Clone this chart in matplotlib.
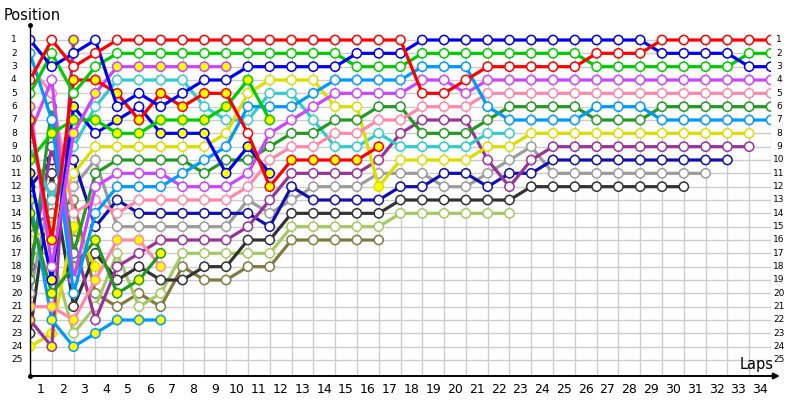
#!/usr/bin/env python3
"""Lap chart: race position of every car after each lap."""

import matplotlib
matplotlib.use("Agg")
import matplotlib.pyplot as plt

LAPS = list(range(35))
LAP_LABELS = [str(i) for i in range(1, 35)]
POSITIONS = list(range(1, 26))

# position per lap (lap 0 = grid), list stops where the car retired
red = [4, 1, 3, 2, 1, 1, 1, 1, 1, 1, 1, 1, 1, 1, 1, 1, 1, 1, 5, 5, 4, 3, 3, 3, 3, 3, 2, 2, 2, 1, 1, 1, 1, 1, 1]
blue = [1, 3, 2, 1, 6, 5, 6, 5, 4, 4, 3, 3, 3, 3, 3, 2, 2, 2, 1, 1, 1, 1, 1, 1, 1, 1, 1, 1, 1, 2, 2, 2, 2, 3, 3]
green = [5, 2, 5, 3, 2, 2, 2, 2, 2, 2, 2, 2, 2, 2, 2, 3, 3, 3, 2, 2, 2, 2, 2, 2, 2, 2, 3, 3, 3, 3, 3, 3, 3, 2, 2]
light_blue = [2, 7, 20, 14, 12, 12, 12, 11, 10, 9, 6, 6, 6, 5, 4, 4, 4, 4, 3, 3, 3, 6, 7, 7, 7, 7, 6, 6, 6, 7, 7, 7, 7, 7, 7]
pink = [3, 5, 14, 13, 14, 13, 13, 13, 13, 13, 12, 10, 9, 9, 8, 8, 7, 7, 6, 6, 6, 5, 5, 5, 5, 5, 5, 5, 5, 5, 5, 5, 5, 5, 5]
violet = [8, 4, 19, 12, 11, 11, 11, 12, 12, 12, 11, 8, 7, 6, 5, 5, 5, 5, 4, 4, 5, 4, 4, 4, 4, 4, 4, 4, 4, 4, 4, 4, 4, 4, 4]
dark_green = [19, 6, 17, 11, 10, 10, 10, 10, 11, 10, 10, 9, 8, 8, 7, 7, 6, 6, 8, 8, 8, 7, 6, 6, 6, 6, 7, 7, 7, 6, 6, 6, 6, 6, 6]
yellow = [16, 15, 11, 9, 9, 9, 9, 9, 9, 8, 5, 4, 4, 4, 6, 6, 12, 10, 10, 10, 10, 9, 9, 8, 8, 8, 8, 8, 8, 8, 8, 8, 8, 8]
purple = [18, 9, 16, 22, 18, 17, 16, 16, 16, 16, 15, 13, 11, 11, 11, 11, 10, 8, 7, 7, 7, 10, 12, 10, 9, 9, 9, 9, 9, 9, 9, 9, 9, 9]
navy = [12, 10, 10, 15, 13, 14, 14, 14, 14, 14, 14, 15, 12, 13, 13, 13, 13, 12, 12, 11, 11, 12, 11, 11, 10, 10, 10, 10, 10, 10, 10, 10, 10]
gray = [20, 12, 12, 10, 15, 15, 15, 15, 15, 15, 13, 14, 13, 12, 12, 12, 11, 11, 11, 12, 12, 11, 10, 9, 11, 11, 11, 11, 11, 11, 11, 11]
black = [23, 11, 21, 17, 19, 18, 19, 19, 18, 18, 16, 16, 14, 14, 14, 14, 14, 13, 13, 13, 13, 13, 13, 12, 12, 12, 12, 12, 12, 12, 12]
cyan = [9, 13, 9, 6, 4, 4, 4, 4, 6, 7, 7, 5, 5, 7, 9, 9, 8, 9, 9, 9, 9, 8, 8]
light_green = [17, 17, 23, 21, 17, 21, 20, 17, 17, 17, 17, 17, 15, 15, 15, 15, 15, 14, 14, 14, 14, 14, 14]
olive = [15, 14, 13, 20, 21, 20, 21, 18, 19, 19, 18, 18, 16, 16, 16, 16, 16]
red_b = [7, 16, 4, 4, 5, 7, 5, 6, 5, 5, 8, 12, 10, 10, 10, 10, 9]
violet_b = [6, 18, 8, 5, 3, 3, 3, 3, 3, 3]
green_b = [10, 8, 7, 7, 8, 8, 7, 7, 7, 6, 4, 7]
blue_b = [11, 19, 6, 8, 7, 6, 8, 8, 8, 11, 9, 11]
dark_green_b = [14, 20, 18, 16, 20, 19, 17]
pink_b = [21, 21, 22, 19, 16, 16, 18]
light_blue_b = [13, 22, 24, 23, 22, 22, 22]
yellow_b = [24, 23, 15, 18]
purple_b = [22, 24, 1]

# laps drawn with a yellow marker
red_b_pits = [0, 1, 2, 3, 4, 5, 6, 7, 8, 9, 11, 12, 13, 14, 15, 16]
violet_b_pits = [0, 2, 3, 4, 5, 6, 7, 8, 9]
green_b_pits = [0, 1, 2, 3, 4, 5, 6, 7, 8, 9, 10, 11]
blue_b_pits = [0, 1, 2, 4, 6, 7, 8, 9, 10, 11]
dark_green_b_pits = [0, 1, 2, 3, 4, 5, 6]
pink_b_pits = [0, 1, 2, 3, 4, 5, 6]
light_blue_b_pits = [0, 1, 2, 3, 4, 5, 6]
yellow_b_pits = [0, 1, 2, 3]
purple_b_pits = [0, 1, 2]
yellow_pits = [16]

DRIVERS = [
    (olive, "#807a40", []),
    (light_green, "#a3c964", []),
    (black, "#333333", []),
    (gray, "#9c9c9c", []),
    (navy, "#1010b0", []),
    (purple, "#993399", []),
    (yellow_b, "#dddd00", yellow_b_pits),
    (purple_b, "#993399", purple_b_pits),
    (light_blue_b, "#0099ff", light_blue_b_pits),
    (pink_b, "#ff88aa", pink_b_pits),
    (dark_green_b, "#229922", dark_green_b_pits),
    (cyan, "#33cccc", []),
    (yellow, "#dddd00", yellow_pits),
    (dark_green, "#229922", []),
    (pink, "#ff88aa", []),
    (violet, "#cc44ff", []),
    (light_blue, "#0099ff", []),
    (blue_b, "#0000ee", blue_b_pits),
    (green_b, "#00cc00", green_b_pits),
    (violet_b, "#cc44ff", violet_b_pits),
    (red_b, "#ff0000", red_b_pits),
    (green, "#00cc00", []),
    (blue, "#0000ee", []),
    (red, "#ff0000", []),
]

fig = plt.figure(figsize=(8, 4), dpi=100)
ax = fig.add_axes([30 / 800, 24 / 400, 741 / 800, 351 / 400])
ax.set_xlim(0, 34)
ax.set_ylim(26.2, -0.125)

# grid
ax.hlines(POSITIONS, 0, 34, color="#cccccc", lw=1, zorder=0)
ax.vlines(LAPS, 1, 26.2, color="#cccccc", lw=1, zorder=0)

for i, (pos, color, pits) in enumerate(DRIVERS):
    laps = LAPS[:len(pos)]
    face = ["#ffff00" if lap in pits else "white" for lap in laps]
    z = 2 + i * 0.01
    ax.plot(laps, pos, color=color, lw=2.3, solid_capstyle="round", zorder=z)
    ax.scatter(laps, pos, s=44, c=face, edgecolors=color, linewidths=1.1,
               zorder=z + 0.005)

# axes
for side in ["top", "right", "bottom"]:
    ax.spines[side].set_visible(False)
ax.spines["left"].set_color("black")
ax.spines["left"].set_linewidth(1)
ax.annotate("", xy=(1.012, 0), xytext=(0, 0), xycoords="axes fraction",
            arrowprops=dict(arrowstyle="-|>", color="black", lw=1.4,
                            mutation_scale=9, shrinkA=0, shrinkB=0))
ax.plot([0], [-0.125], marker="o", ms=2.5, color="black", clip_on=False)
ax.plot([0], [26.2], marker="o", ms=2.5, color="black", clip_on=False)

ax.set_xticks([i - 0.5 for i in range(1, 35)], LAP_LABELS)
ax.tick_params(axis="x", length=0, pad=5, labelsize=9)
ax.set_yticks([])

ytrans = ax.get_yaxis_transform()
for p in POSITIONS:
    ax.text(-19 / 741, p, str(p), transform=ytrans, ha="left", va="center",
            fontsize=6.5)
    ax.text(1 + 8 / 741, p, str(p), transform=ytrans, ha="center", va="center",
            fontsize=6.5)

fig.text(4 / 800, 1 - 15 / 400, "Position", ha="left", va="center", fontsize=10.5)
fig.text(774 / 800, 1 - 364 / 400, "Laps", ha="right", va="center", fontsize=10.5)

fig.savefig("out.png", dpi=100)
